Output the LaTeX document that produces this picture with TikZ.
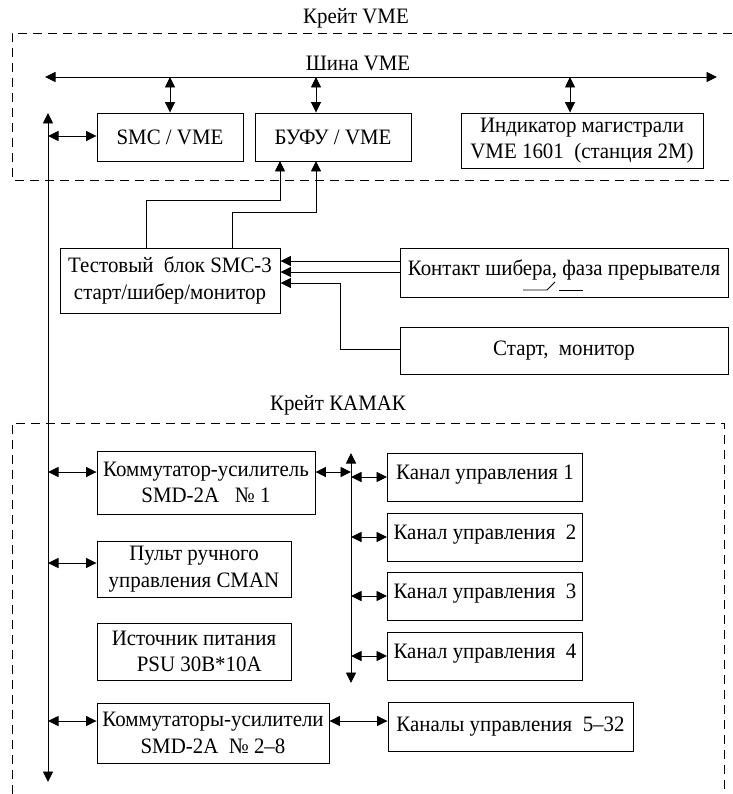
\documentclass[tikz,border=0pt]{standalone}
\usepackage{fontspec}
\setmainfont{Liberation Serif}[FakeStretch=0.95]
\usetikzlibrary{arrows.meta,calc}
\begin{document}
\begin{tikzpicture}[x=1pt,y=-1pt,
  >={Triangle[length=10.5pt,width=10pt]},
  line width=0.9pt,
  every node/.style={font=\fontsize{22}{26.5}\selectfont},
  blk/.style={draw,inner sep=0pt,align=center},
  kan/.style={blk,minimum width=195,text height=26pt,text depth=22pt},
  frame/.style={dash pattern=on 9pt off 6pt,line width=0.9pt},
  lbl/.style={inner sep=0pt}]
\useasboundingbox (0,0) rectangle (732,794);
% frames
\draw[frame] (732,33) -- (12,33) -- (12,180) -- (732,180);
\draw[frame] (12,794) -- (12,423) -- (724,423) -- (724,794);
\node[lbl] (kvme) at (356,18) {Крейт VME};
\node[lbl] (shina) at (358,63) {Шина VME};
\node[lbl] (kkam) at (338,405) {Крейт КАМАК};
% boxes
\node[blk,minimum width=146,minimum height=48] (smc) at (170,137) {SMC / VME};
\node[blk,minimum width=156,minimum height=48] (bufu) at (333,137) {БУФУ / VME};
\node[blk,minimum width=242,minimum height=55] (ind) at (582,140.5) {Индикатор магистрали\\VME 1601 \ (станция 2М)};
\node[blk,minimum width=220,minimum height=65] (test) at (170,280.5) {Тестовый \ блок SMC-3\\старт/шибер/монитор};
\node[blk,minimum width=328,minimum height=49,anchor=north west] (cont) at (400,248) {};
\node[lbl] (contt) at (564,270) {Контакт шибера, фаза прерывателя};
\node[blk,minimum width=328,minimum height=47] (start) at (564,350.5) {Старт, \ монитор};
\node[blk,minimum width=218,minimum height=63] (kom1) at (206,482.5) {Коммутатор-усилитель\\SMD-2A \ \ № 1};
\node[kan,anchor=north west] (kan1) at (387,453) {Канал управления 1};
\node[kan,anchor=north west] (kan2) at (387,513) {Канал управления \ 2};
\node[kan,anchor=north west] (kan3) at (387,572) {Канал управления \ 3};
\node[kan,anchor=north west] (kan4) at (387,632) {Канал управления \ 4};
\node[blk,minimum width=194,minimum height=56] (pult) at (194,569) {Пульт ручного\\управления CMAN};
\node[blk,minimum width=194,minimum height=57] (ist) at (194,651.5) {Источник питания\\\ \ PSU 30В*10А};
\node[blk,minimum width=232,minimum height=60] (koms) at (213,733) {Коммутаторы-усилители\\SMD-2A \ № 2–8};
\node[blk,minimum width=245,minimum height=49] (kans) at (510.5,726.5) {Каналы управления \ 5–32};
% switch symbol
\coordinate (sw1) at (523,290);
\coordinate (sw2) at (547,290);
\coordinate (sw3) at (555,282);
\coordinate (sw4) at (559,290);
\coordinate (sw5) at (583,290);
\draw (sw1) -- (sw2) -- (sw3);
\draw (sw4) -- (sw5);
% VME bus
\coordinate (busL) at (45,77);
\coordinate (busR) at (717,77);
\draw[<->] (busL) -- (busR);
\coordinate (b1) at (170,77);
\coordinate (b2) at (316,77);
\coordinate (b3) at (570,77);
\draw[<->] (b1) -- (b1 |- smc.north);
\draw[<->] (b2) -- (b2 |- bufu.north);
\draw[<->] (b3) -- (b3 |- ind.north);
% main left line
\coordinate (lt) at (48,113);
\coordinate (lb) at (48,782);
\draw[<->] (lt) -- (lb);
\coordinate (l1) at (48,136);
\draw[<->] (l1) -- (l1 -| smc.west);
% test block to BUFU
\coordinate (t1) at (146,200);
\coordinate (u1) at (280,161);
\coordinate (t2) at (232,212);
\coordinate (u2) at (316,161);
\draw[->] (t1 |- test.north) -- (t1) -- (u1 |- t1) -- (u1);
\draw[->] (t2 |- test.north) -- (t2) -- (u2 |- t2) -- (u2);
% contact and start to test block
\coordinate (c1) at (400,261);
\coordinate (c2) at (400,272);
\draw[->] (c1) -- (c1 -| test.east);
\draw[->] (c2) -- (c2 -| test.east);
\coordinate (s1) at (340,283);
\coordinate (s0) at (400,349);
\draw[->] (s0) -| (s1) -- (s1 -| test.east);
% CAMAC
\coordinate (l2) at (48,472);
\coordinate (l3) at (48,563);
\coordinate (l4) at (48,721);
\draw[<->] (l2) -- (l2 -| kom1.west);
\draw[<->] (l3) -- (l3 -| pult.west);
\draw[<->] (l4) -- (l4 -| koms.west);
\coordinate (vt) at (351,453);
\coordinate (vb) at (351,683);
\draw[<->] (vt) -- (vb);
\draw[<->] (kom1.east |- l2) -- (vt |- l2);
\coordinate (k1) at (351,477);
\coordinate (k2) at (351,537);
\coordinate (k3) at (351,596);
\coordinate (k4) at (351,656);
\draw[<->] (k1) -- (k1 -| kan1.west);
\draw[<->] (k2) -- (k2 -| kan2.west);
\draw[<->] (k3) -- (k3 -| kan3.west);
\draw[<->] (k4) -- (k4 -| kan4.west);
\draw[<->] (koms.east |- l4) -- (kans.west |- l4);
\end{tikzpicture}
\end{document}
